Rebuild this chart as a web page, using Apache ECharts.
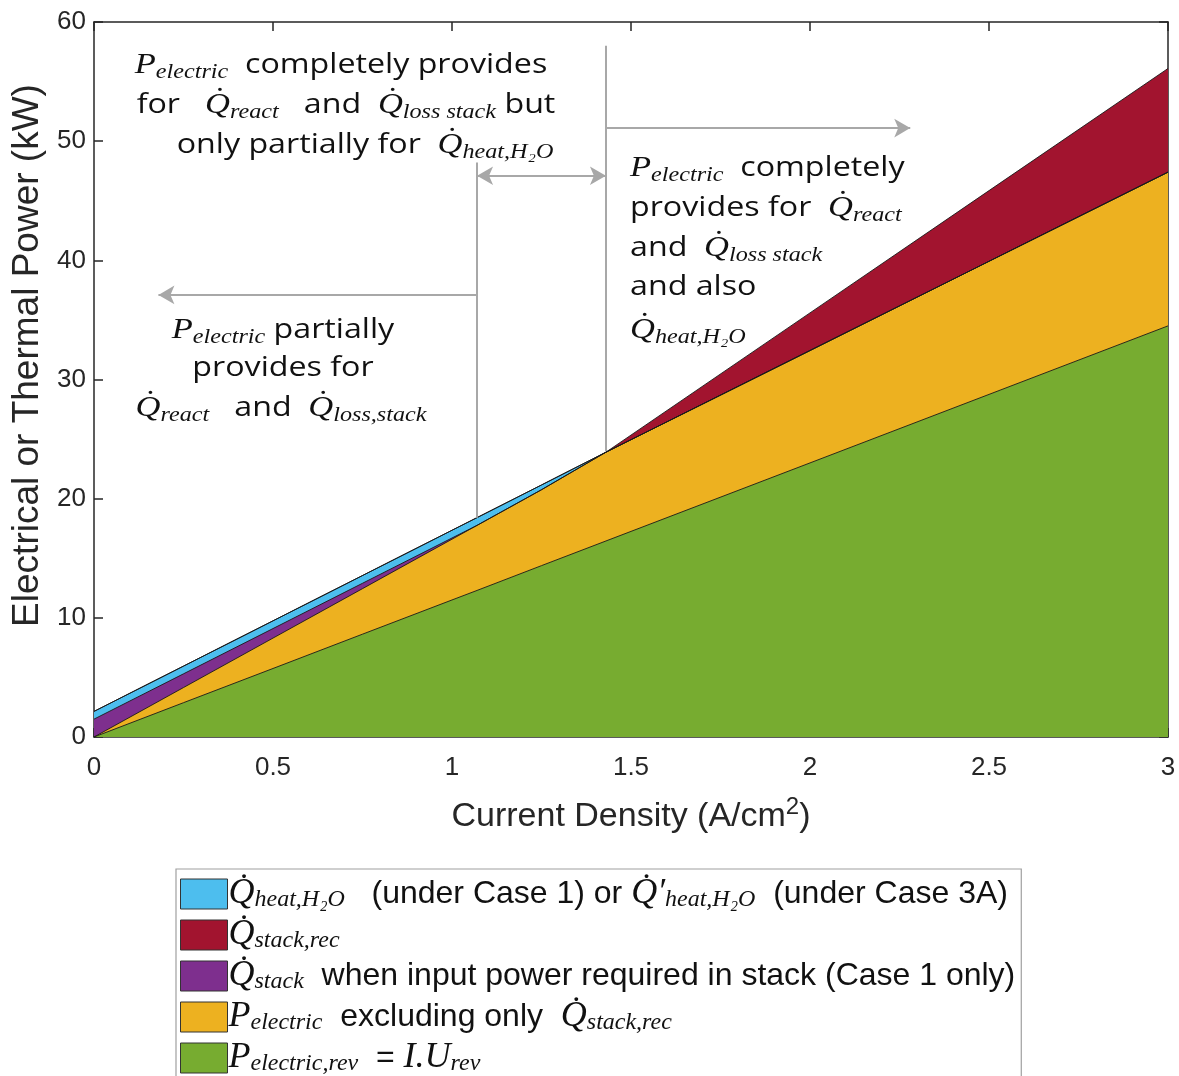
<!DOCTYPE html>
<html>
<head>
<meta charset="utf-8">
<script src="https://cdn.jsdelivr.net/npm/echarts@6/dist/echarts.min.js"></script>
<style>
  html, body { margin: 0; padding: 0; background: #fff; }
  #chart { width: 1179px; height: 1076px; }
</style>
</head>
<body>
<div id="chart"></div>
<script>
// Current density samples (A/cm^2)
const currentDensity = [0, 0.25, 0.5, 0.75, 1.0, 1.07, 1.25, 1.43, 2.0, 2.5, 3.0];

// Band thicknesses (kW), listed bottom to top of the stack
const pElectricRev   = [0, 2.88, 5.75, 8.63, 11.5, 12.3, 14.38, 16.45, 23.0, 28.75, 34.5];
const pElectricExtra = [0, 1.27, 2.55, 3.82, 5.1, 5.46, 6.37, 7.45, 9.43, 11.17, 12.9];
const qStack         = [1.5, 1.15, 0.8, 0.45, 0.1, 0, 0, 0, 0, 0, 0];
const qHeatH2O       = [0.65, 0.65, 0.65, 0.65, 0.65, 0.65, 0.4, 0, 0, 0, 0];
const qStackRec      = [0, 0, 0, 0, 0, 0, 0, 0, 3.16, 5.93, 8.7];

// Boundaries of the operating regions (A/cm^2)
const thermoneutralJ = 1.07;
const fullCoverJ = 1.43;

const C = {
  green: '#77AC30', yellow: '#EDB120', purple: '#7E2F8E', blue: '#4DBEEE', red: '#A2142F',
  axis: '#262626', note: '#a8a8a8'
};

const SANS = 'Liberation Sans';
const NOTE = 'Open Sans';
const SERIF = 'Liberation Serif';

// Running totals: each band is filled from zero up to its own cumulative top,
// drawn from the outermost band inwards so the lower bands paint over it.
const layers = [
  { key: 'P_electric_rev', color: C.green,  vals: pElectricRev },
  { key: 'P_electric',     color: C.yellow, vals: pElectricExtra },
  { key: 'Q_stack',        color: C.purple, vals: qStack },
  { key: 'Q_heat_H2O',     color: C.blue,   vals: qHeatH2O },
  { key: 'Q_stack_rec',    color: C.red,    vals: qStackRec }
];
let running = currentDensity.map(() => 0);
layers.forEach(l => {
  running = running.map((s, i) => s + l.vals[i]);
  l.top = running.slice();
});

function band(l) {
  return {
    name: l.key, type: 'line', data: currentDensity.map((x, i) => [x, l.top[i]]),
    color: l.color, symbol: 'none', smooth: false, silent: true,
    lineStyle: { color: '#1a1a1a', width: 0.9 },
    areaStyle: { color: l.color, opacity: 1, origin: 'start' },
    itemStyle: { color: l.color },
    z: 2
  };
}

const legendText = {
  heat: '{q|Q\u0307}{qs|heat,H\u2082O}{t|   (under Case 1) or }{q|Q\u0307\u2032}{qs|heat,H\u2082O}{t|  (under Case 3A)}',
  rec: '{q|Q\u0307}{qs|stack,rec}',
  stack: '{q|Q\u0307}{qs|stack}{t|  when input power required in stack (Case 1 only)}',
  pel: '{q|P}{qs|electric}{t|  excluding only  }{q|Q\u0307}{qs|stack,rec}',
  rev: '{q|P}{qs|electric,rev}{t|  = }{q|I.U}{qs|rev}'
};

const mathRich = {
  t: { fontFamily: SANS, fontSize: 32, color: '#111', lineHeight: 35 },
  q: { fontFamily: SERIF, fontStyle: 'italic', fontSize: 36, color: '#111', lineHeight: 35 },
  qs: { fontFamily: SERIF, fontStyle: 'italic', fontSize: 24, color: '#111', lineHeight: 22, verticalAlign: 'bottom' }
};

const noteRich = {
  t: { fontFamily: NOTE, fontSize: 28, fill: '#111', lineHeight: 36 },
  q: { fontFamily: SERIF, fontStyle: 'italic', fontSize: 30, fill: '#111', lineHeight: 36 },
  qs: { fontFamily: SERIF, fontStyle: 'italic', fontSize: 21, fill: '#111', lineHeight: 22, verticalAlign: 'bottom' }
};

function note(x, y, text, align) {
  return {
    type: 'text', x: x, y: y, scaleX: 1.15, silent: true, z: 10,
    style: { text: text, rich: noteRich, align: align, verticalAlign: 'middle',
             fontFamily: NOTE, fontSize: 28, fill: '#111' }
  };
}

const notes = [
  note(341, 65, '{q|P}{qs|electric}{t|  completely provides}', 'center'),
  note(346, 105, '{t|for   }{q|Q\u0307}{qs|react}{t|   and  }{q|Q\u0307}{qs|loss stack}{t| but}', 'center'),
  note(365, 145, '{t|only partially for  }{q|Q\u0307}{qs|heat,H\u2082O}', 'center'),

  note(630, 168, '{q|P}{qs|electric}{t|  completely}', 'left'),
  note(630, 208, '{t|provides for  }{q|Q\u0307}{qs|react}', 'left'),
  note(630, 248, '{t|and  }{q|Q\u0307}{qs|loss stack}', 'left'),
  note(630, 287, '{t|and also}', 'left'),
  note(630, 330, '{q|Q\u0307}{qs|heat,H\u2082O}', 'left'),

  note(283, 330, '{q|P}{qs|electric}{t| partially}', 'center'),
  note(283, 368, '{t|provides for}', 'center'),
  note(281, 408, '{q|Q\u0307}{qs|react}{t|   and  }{q|Q\u0307}{qs|loss,stack}', 'center')
];

// Region markers and arrows, placed in data coordinates
function seg(a, b, sa, sb) {
  return [{ coord: a, symbol: sa }, { coord: b, symbol: sb }];
}
const markers = [
  seg([thermoneutralJ, 48.2], [thermoneutralJ, 18.4], 'none', 'none'),
  seg([fullCoverJ, 58.0], [fullCoverJ, 24.0], 'none', 'none'),
  seg([thermoneutralJ, 37.1], [0.18, 37.1], 'none', 'arrow'),
  seg([thermoneutralJ, 47.1], [fullCoverJ, 47.1], 'arrow', 'arrow'),
  seg([fullCoverJ, 51.1], [2.28, 51.1], 'none', 'arrow')
];

const series = layers.slice().reverse().map(band);
series[series.length - 1].markLine = {
  silent: true, symbolSize: [14, 16], animation: false,
  label: { show: false },
  lineStyle: { color: C.note, width: 2, type: 'solid' },
  itemStyle: { color: C.note },
  data: markers, z: 5
};

const legendNames = {
  'Q_heat_H2O': legendText.heat,
  'Q_stack_rec': legendText.rec,
  'Q_stack': legendText.stack,
  'P_electric': legendText.pel,
  'P_electric_rev': legendText.rev
};

function axisLine() { return { show: true, onZero: false, lineStyle: { color: C.axis, width: 1.5 } }; }
function tickIn() { return { show: true, inside: true, length: 9, lineStyle: { color: C.axis, width: 1.5 } }; }

const option = {
  animation: false,
  backgroundColor: '#fff',
  grid: { left: 94, right: 11, top: 22, bottom: 339, containLabel: false },
  xAxis: [{
    type: 'value', min: 0, max: 3, interval: 0.5,
    name: 'Current Density (A/cm{sup|2})', nameLocation: 'middle', nameGap: 58,
    nameTextStyle: { fontFamily: SANS, fontSize: 34, color: C.axis,
      rich: { sup: { fontFamily: SANS, fontSize: 24, color: C.axis, verticalAlign: 'top', lineHeight: 44 } } },
    axisLine: axisLine(), axisTick: tickIn(), splitLine: { show: false },
    axisLabel: { fontFamily: SANS, fontSize: 26, color: C.axis, margin: 18 }
  }, {
    type: 'value', min: 0, max: 3, interval: 0.5, position: 'top',
    axisLine: axisLine(), axisTick: tickIn(), splitLine: { show: false },
    axisLabel: { show: false }
  }],
  yAxis: [{
    type: 'value', min: 0, max: 60, interval: 10,
    name: 'Electrical or Thermal Power (kW)', nameLocation: 'middle', nameGap: 48,
    nameTextStyle: { fontFamily: SANS, fontSize: 37, color: C.axis, padding: [0, 0, 0, 48] },
    axisLine: axisLine(), axisTick: tickIn(), splitLine: { show: false },
    axisLabel: { fontFamily: SANS, fontSize: 26, color: C.axis, margin: 8 }
  }, {
    type: 'value', min: 0, max: 60, interval: 10, position: 'right',
    axisLine: axisLine(), axisTick: tickIn(), splitLine: { show: false },
    axisLabel: { show: false }
  }],
  legend: {
    orient: 'vertical', left: 176, top: 869, height: 400,
    data: ['Q_heat_H2O', 'Q_stack_rec', 'Q_stack', 'P_electric', 'P_electric_rev'],
    icon: 'rect', itemWidth: 47, itemHeight: 30, itemGap: 5,
    padding: [7, 6, 6, 4],
    borderColor: '#a0a0a0', borderWidth: 1.2,
    selectedMode: false,
    itemStyle: { borderColor: '#333', borderWidth: 1 },
    formatter: function (n) { return legendNames[n]; },
    textStyle: { fontFamily: SANS, fontSize: 32, color: '#111', rich: mathRich, padding: [0, 0, 0, -4] }
  },
  series: series,
  graphic: notes
};

const chart = echarts.init(document.getElementById('chart'), null, { renderer: 'canvas' });
chart.setOption(option);
</script>
</body>
</html>
